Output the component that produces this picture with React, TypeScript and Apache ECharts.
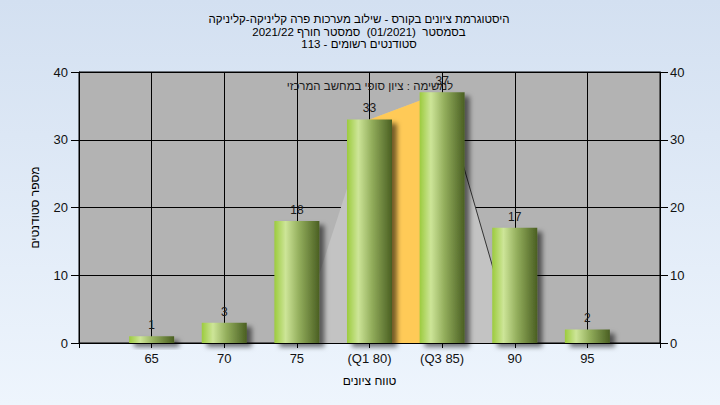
import React, { useEffect, useRef } from 'react';
import * as echarts from 'echarts';

const categories = ['65', '70', '75', '(Q1 80)', '(Q3 85)', '90', '95'];
const counts = [1, 3, 18, 33, 37, 17, 2];
const titleLines = [
  'היסטוגרמת ציונים בקורס - שילוב מערכות פרה קליניקה-קליניקה',
  'בסמסטר  (01/2021)  סמסטר חורף 2021/22',
  'סטודנטים רשומים - 113',
];
const noteText = 'למשימה : ציון סופי במחשב המרכזי';
const xAxisName = 'טווח ציונים';
const yAxisName = 'מספר סטודנטים';
// envelope polygon: category index -> value
const envelopeIdx = [2, 3, 4, 5];
const envelopeVals = [0, 33, 37, 0];
// quartile band between Q1 and Q3 categories
const iqrIdx = [3, 4];
const yMax = 40;
const yStep = 10;

const FONT = '"Liberation Sans", Arial, sans-serif';

export default function App() {
  const ref = useRef<HTMLDivElement>(null);
  useEffect(() => {
    if (!ref.current) return;
    const chart = echarts.init(ref.current, null, { renderer: 'svg' });
    const pos = (i: number) => i + 1;
    const barData = counts.map((v, i) => [pos(i), v]);
    const envData = envelopeIdx.map((ci, k) => [pos(ci), envelopeVals[k]]);
    const iqrData = iqrIdx.map((ci) => [pos(ci), counts[ci]]);
    const dropData = [envData[2], envData[3]];

    const barGrad = new echarts.graphic.LinearGradient(0, 0, 1, 0, [
      { offset: 0, color: '#9ccb3e' },
      { offset: 0.25, color: '#cde598' },
      { offset: 0.55, color: '#93ae5c' },
      { offset: 1, color: '#4a5f22' },
    ]);

    const yAxisCommon = {
      type: 'value',
      min: 0,
      max: yMax,
      interval: yStep,
      axisLine: { show: true, lineStyle: { color: '#000', width: 1 } },
      axisTick: { show: true, length: 8, lineStyle: { color: '#000' } },
      axisLabel: { color: '#111', fontSize: 13, fontFamily: FONT },
    };

    chart.setOption({
      animation: false,
      backgroundColor: new echarts.graphic.LinearGradient(0, 0, 0, 1, [
        { offset: 0, color: '#d3e0f1' },
        { offset: 1, color: '#eef5fd' },
      ]),
      textStyle: { fontFamily: FONT },
      grid: {
        left: 79,
        right: 60,
        top: 72,
        bottom: 62,
        show: true,
        backgroundColor: '#b3b3b3',
        borderColor: '#000',
        borderWidth: 1,
        containLabel: false,
      },
      graphic: [
        ...titleLines.map((t, i) => ({
          type: 'text',
          x: 359,
          y: 19 + i * 12.5,
          style: {
            text: t,
            fill: '#000',
            font: `11.5px ${FONT}`,
            textAlign: 'center',
            textVerticalAlign: 'middle',
          },
        })),
        {
          type: 'text',
          x: 370,
          y: 86,
          z: 100,
          style: {
            text: noteText,
            fill: '#1a1a1a',
            font: `11.5px ${FONT}`,
            textAlign: 'center',
            textVerticalAlign: 'middle',
          },
        },
      ],
      xAxis: {
        type: 'value',
        min: 0,
        max: categories.length + 1,
        interval: 1,
        name: xAxisName,
        nameLocation: 'middle',
        nameGap: 32,
        nameTextStyle: { color: '#000', fontSize: 12, fontFamily: FONT },
        axisLine: { show: true, onZero: false, lineStyle: { color: '#000' } },
        axisTick: { show: true, length: 5, lineStyle: { color: '#000' } },
        axisLabel: {
          color: '#111',
          fontSize: 13,
          margin: 9,
          fontFamily: FONT,
          formatter: (v: number) => categories[v - 1] ?? '',
        },
        splitLine: { show: true, lineStyle: { color: '#000', width: 1 } },
      },
      yAxis: [
        {
          ...yAxisCommon,
          position: 'left',
          name: yAxisName,
          nameLocation: 'middle',
          nameRotate: 90,
          nameGap: 38,
          nameTextStyle: { color: '#000', fontSize: 12, fontFamily: FONT },
          axisLabel: { ...yAxisCommon.axisLabel, margin: 11 },
          splitLine: { show: true, lineStyle: { color: '#000', width: 1 } },
        },
        {
          ...yAxisCommon,
          position: 'right',
          axisLabel: { ...yAxisCommon.axisLabel, margin: 10 },
          splitLine: { show: false },
        },
      ],
      series: [
        {
          type: 'line',
          data: envData,
          symbol: 'none',
          z: 1,
          lineStyle: { width: 0, opacity: 0 },
          areaStyle: { color: '#c3c3c3', opacity: 1 },
          silent: true,
        },
        {
          type: 'line',
          data: iqrData,
          symbol: 'none',
          z: 2,
          lineStyle: { width: 0, opacity: 0 },
          areaStyle: { color: '#ffca57', opacity: 1 },
          silent: true,
        },
        {
          type: 'line',
          data: dropData,
          symbol: 'none',
          z: 2,
          lineStyle: { width: 1, color: '#333' },
          silent: true,
        },
        {
          type: 'bar',
          data: barData,
          barWidth: 45,
          z: 5,
          clip: false,
          itemStyle: {
            color: barGrad,
            shadowColor: 'rgba(0,0,0,0.55)',
            shadowBlur: 5,
            shadowOffsetX: 5,
            shadowOffsetY: 4,
          },
          label: {
            show: true,
            position: 'top',
            distance: 5,
            color: '#1a1a1a',
            fontSize: 12,
            fontFamily: FONT,
          },
        },
      ],
    });
    return () => chart.dispose();
  }, []);
  return (
    <div
      ref={ref}
      style={{ position: 'fixed', left: 0, top: 0, width: 720, height: 405 }}
    />
  );
}
